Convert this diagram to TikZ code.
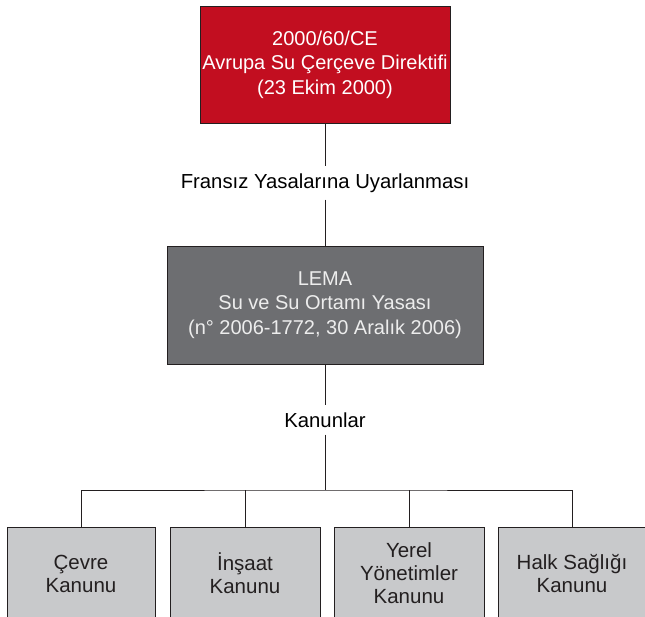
\documentclass[tikz,border=0pt]{standalone}
\usepackage{fontspec}
\setmainfont{Liberation Sans}
\usepackage{tikz}
\usetikzlibrary{positioning}

\definecolor{dirred}{HTML}{C20E20}
\definecolor{lemagray}{HTML}{6D6E71}
\definecolor{kanungray}{HTML}{C8C9CB}
\definecolor{linegray}{HTML}{231F20}

\begin{document}
\begin{tikzpicture}[x=1pt,y=-1pt,
  box/.style={draw=linegray,line width=1pt,align=center,inner sep=0pt,
    font=\fontsize{20}{24.5}\selectfont},
  lbl/.style={font=\fontsize{20.3}{24.5}\selectfont,inner sep=7pt},
  conn/.style={draw=linegray,line width=0.8pt}]
\useasboundingbox (0,0) rectangle (645,616);
\clip (0,0) rectangle (645,616);

% direktif and french law
\node[box,fill=dirred,text=white,minimum width=250,minimum height=117] (direktif) at (325,64.5)
  {2000/60/CE\\Avrupa Su Çerçeve Direktifi\\(23 Ekim 2000)};
\node[lbl] (uyarlama) at (325,183) {Fransız Yasalarına Uyarlanması};
\node[box,fill=lemagray,text=white!93!black,minimum width=316,minimum height=118] (lema) at (325,305)
  {LEMA\\Su ve Su Ortamı Yasası\\(n° 2006-1772, 30 Aralık 2006)};
\node[lbl] (kanunlar) at (325,420) {Kanunlar};
\coordinate (bus) at (325,490);

% codes
\node[box,fill=kanungray,text=linegray,minimum width=148,minimum height=93,
  font=\fontsize{20.5}{23}\selectfont] (cevre) at (81,573.5)
  {Çevre\\Kanunu};
\node[box,fill=kanungray,text=linegray,minimum width=150,minimum height=93,
  font=\fontsize{20.5}{23}\selectfont] (insaat) at (245,573.5)
  {İnşaat\\Kanunu};
\node[box,fill=kanungray,text=linegray,minimum width=150,minimum height=93,
  font=\fontsize{20.5}{23}\selectfont] (yerel) at (409,573.5)
  {Yerel\\Yönetimler\\Kanunu};
\node[box,fill=kanungray,text=linegray,minimum width=148,minimum height=93,
  font=\fontsize{20.5}{23}\selectfont] (saglik) at (572,573.5)
  {Halk Sağlığı\\Kanunu};

\draw[conn] (direktif) -- (uyarlama);
\draw[conn] (uyarlama) -- (lema);
\draw[conn] (lema) -- (kanunlar);
\draw[conn] (kanunlar) -- (bus);
\draw[conn] (cevre.north) |- (bus) -| (saglik.north);
\draw[conn] (insaat.north) -- (insaat.north |- bus);
\draw[conn] (yerel.north) -- (yerel.north |- bus);
\end{tikzpicture}
\end{document}
